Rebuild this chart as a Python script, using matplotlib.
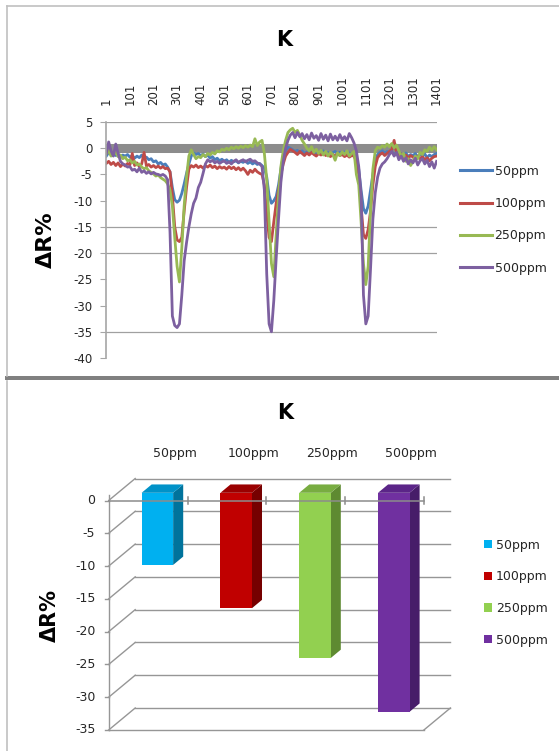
import matplotlib
matplotlib.use('Agg')
import matplotlib.pyplot as plt
from matplotlib.patches import Polygon, Rectangle, Patch
from matplotlib.lines import Line2D

plt.rcParams['font.family'] = ['DejaVu Sans']

W, H = 559, 751
fig = plt.figure(figsize=(W / 100, H / 100), dpi=100)


def fx(px):
    return px / W


def fy(py):
    return 1 - py / H


# ---------------- data ----------------
series_names = ['50ppm', '100ppm', '250ppm', '500ppm']
sample_index = list(range(1, 1402, 10))   # sample numbers (every 10th point)
x_tick_values = list(range(1, 1402, 100))
x_tick_labels = [str(v) for v in x_tick_values]
y_ticks_top = [5, 0, -5, -10, -15, -20, -25, -30, -35, -40]
y_ticks_bottom = [0, -5, -10, -15, -20, -25, -30, -35]

r50 = [
    -1.5, -0.8, -1.2, -1.0, -1.4, -1.1, -1.6, -1.3, -1.5, -1.2,
    -1.7, -1.4, -1.9, -1.5, -1.8, -1.3, -2.0, -1.7, -2.2, -2.0,
    -2.6, -2.4, -3.0, -2.7, -3.2, -3.0, -3.6, -4.5, -7.5, -9.8,
    -10.3, -9.9, -8.6, -6.8, -4.8, -3.0, -1.5, -0.9, -1.2, -1.0,
    -1.4, -1.1, -1.6, -1.3, -1.9, -1.6, -2.2, -1.9, -2.4, -2.1,
    -2.5, -2.2, -2.7, -2.3, -2.6, -2.4, -2.8, -2.5, -2.7, -2.4,
    -2.9, -2.6, -3.0, -2.7, -3.1, -2.9, -3.3, -3.8, -5.5, -9.0,
    -10.5, -10.0, -9.2, -7.0, -4.0, -1.6, -0.5, 0.2, 0.0, -0.3,
    -0.6, -0.4, -0.9, -0.5, -1.0, -0.7, -0.5, -0.9, -0.6, -1.1,
    -0.7, -0.9, -0.5, -1.0, -0.8, -1.2, -0.9, -0.6, -1.1, -0.8,
    -1.0, -0.7, -1.2, -0.9, -1.1, -1.0, -1.8, -4.0, -8.0, -11.5,
    -12.4, -11.0, -8.0, -5.0, -2.5, -1.2, -0.8, -0.5, -0.9, -0.6,
    -1.0, -0.7, -1.2, -0.8, -1.5, -1.1, -1.3, -0.9, -1.6, -1.2,
    -1.4, -1.0, -1.7, -1.2, -1.5, -1.1, -1.8, -1.3, -1.6, -1.2,
    -1.0,
]
r100 = [
    -2.9, -2.5, -3.1, -2.7, -3.3, -2.8, -3.5, -3.0, -3.4, -2.9,
    -3.2, -1.0, -3.3, -2.8, -3.5, -3.0, -0.8, -3.4, -3.1, -3.6,
    -3.3, -3.7, -3.4, -3.8, -3.5, -3.9, -3.8, -4.5, -9.0, -15.0,
    -17.5, -17.8, -17.0, -12.0, -7.5, -4.0, -3.3, -3.6, -3.2, -3.7,
    -3.4, -3.8, -3.3, -3.6, -3.2, -3.7, -3.4, -3.9, -3.5, -3.8,
    -3.6, -4.0, -3.5, -3.9, -3.6, -4.1, -3.7, -4.2, -3.8, -4.3,
    -5.0, -4.2, -4.6, -4.0, -4.5, -4.8, -5.0, -7.0, -12.5, -17.0,
    -17.8, -14.0, -10.5, -8.0, -5.0, -3.0, -1.5, -0.8, -0.2, -0.5,
    -0.8, -1.2, -0.6, -1.0, -1.4, -0.9, -1.3, -0.8, -1.2, -1.5,
    -1.0, -1.3, -0.9, -1.4, -1.1, -1.6, -1.2, -1.5, -1.0, -1.4,
    -1.2, -1.6, -1.3, -1.7, -1.4, -1.5, -2.5, -5.0, -11.0, -16.5,
    -17.2, -15.5, -12.0, -7.0, -3.5, -1.8, -1.2, -0.9, -1.4, -1.0,
    -0.6, -0.3, 1.5, -0.8, -1.5, -1.1, -1.8, -1.3, -1.9, -1.4,
    -1.7, -2.1, -1.5, -2.0, -1.6, -2.2, -1.8, -2.4, -1.9, -1.6,
    -1.5,
]
r250 = [
    -1.0, -0.5, -1.5, -1.2, -0.8, -1.6, -1.3, -2.0, -1.7, -2.4,
    -2.2, -2.8, -2.5, -3.2, -3.0, -3.6, -3.9, -3.7, -4.3, -4.6,
    -4.9, -5.3, -5.1, -5.6, -5.9, -6.2, -6.8, -8.0, -11.0, -17.0,
    -22.5, -25.5, -19.0, -11.0, -5.5, -1.5, -0.3, -1.2, -2.0, -1.6,
    -1.8, -1.2, -1.6, -1.0, -1.3, -0.8, -1.1, -0.5, -0.7, -0.2,
    -0.4, 0.0, -0.3, 0.2, -0.1, 0.3, 0.0, 0.4, 0.1, 0.5,
    0.2, 0.6, 0.3, 1.8, 0.5, 1.2, 1.5, -1.0, -6.0, -14.0,
    -22.0, -24.5, -16.5, -9.0, -3.5, -0.5, 1.5, 3.0, 3.5, 3.8,
    3.0, 3.4, 2.5, 1.5, 0.8, 0.0, -0.5, 0.3, -0.8, -0.2,
    -1.0, -0.4, -1.3, -0.6, -1.5, -0.8, -1.2, -2.3, -0.9, -1.4,
    -0.7, -1.2, -0.5, -1.5, -1.0, -0.6, -5.0, -7.0, -14.0, -22.0,
    -26.0, -22.5, -12.0, -4.0, -0.5, 0.2, 0.0, 0.5, 0.2, 0.8,
    0.3, 0.9, 0.1, 0.6, -0.5, -1.5, -1.0, -2.5, -2.0, -3.3,
    -2.5, -1.5, -2.0, -0.8, -1.2, -0.3, -0.6, 0.2, -0.4, 0.3,
    -0.3,
]
r500 = [
    -1.0, 1.2, -0.5, -1.5, 0.8, -1.0, -2.5, -3.0, -3.2, -3.6,
    -3.5, -4.2, -4.0, -4.5, -3.8, -4.6, -4.3, -4.8, -4.5, -4.9,
    -4.6, -4.9, -5.0, -5.2, -5.0, -5.3, -6.0, -16.0, -32.0, -33.8,
    -34.2, -33.5, -28.0, -21.5, -18.0, -15.0, -12.5, -10.5, -9.5, -7.5,
    -6.5, -4.8, -3.0, -2.2, -2.6, -2.3, -2.8, -2.5, -2.9, -2.6,
    -2.4, -2.9, -2.6, -3.0, -2.5, -2.2, -2.7, -2.4, -2.2, -2.6,
    -2.3, -2.1, -2.5, -2.4, -2.8, -3.0, -3.5, -8.0, -24.0, -33.5,
    -35.0, -29.0, -21.0, -13.5, -6.5, -2.5, 0.0, 1.5, 2.5, 3.0,
    2.0, 3.0, 2.2, 2.8, 1.8, 2.6, 1.6, 2.9, 1.9, 2.4,
    1.5, 2.8, 1.7, 2.5, 1.4, 2.7, 1.6, 2.3, 1.5, 2.6,
    1.6, 2.2, 1.4, 2.8, 2.0, 1.0, -0.5, -3.5, -9.0, -28.0,
    -33.5, -32.0, -23.0, -13.5, -8.5, -5.5, -3.8, -3.0, -2.6, -2.0,
    -1.2, -0.6, -1.5, -0.8, -2.2, -1.5, -2.5, -1.8, -3.0, -2.2,
    -2.8, -1.9, -3.2, -2.4, -2.0, -3.0, -2.3, -3.5, -2.6, -3.8,
    -2.5,
]
line_series = [r50, r100, r250, r500]
line_colors = ['#4A7EBB', '#BE4B48', '#98B954', '#7D60A0']

bar_values = [-11.0, -17.6, -25.2, -33.4]
bar_front = ['#00B0F0', '#C00000', '#92D050', '#7030A0']
bar_side = ['#00739C', '#760000', '#5E8A31', '#471D69']
bar_top = ['#0092C8', '#9A0000', '#78AC41', '#5B2588']

TEXT = '#262626'
FS = 9

# ---------------- panel frames ----------------
fig.add_artist(Line2D([fx(7), fx(7)], [fy(6), fy(376)], transform=fig.transFigure,
                      color='#C0C0C0', lw=1.2))
fig.add_artist(Line2D([fx(7), 1], [fy(6), fy(6)], transform=fig.transFigure,
                      color='#C0C0C0', lw=1.2))
fig.add_artist(Rectangle((fx(5), fy(380)), 1 - fx(5), 4 / H, transform=fig.transFigure,
                         color='#808080', lw=0))
fig.add_artist(Line2D([fx(7), fx(7)], [fy(381), 0], transform=fig.transFigure,
                      color='#C0C0C0', lw=1.2))

# ---------------- top line chart ----------------
ax1 = fig.add_axes([fx(106.2), fy(358), (436.7 - 106.2) / W, (358 - 122) / H])
ax1.set_xlim(0.5, 1401.5)
ax1.set_ylim(-40, 5)
for v in [5, -15, -20, -35]:
    ax1.axhline(v, color='#A0A0A0', lw=0.9, zorder=1)
ax1.axhline(0, color='#8C8C8C', lw=6.5, zorder=1.5)
for name, vals, col in zip(series_names, line_series, line_colors):
    ax1.plot(sample_index, vals, color=col, lw=2.0, label=name, zorder=2,
             solid_joinstyle='round')

for s in ['top', 'right', 'bottom']:
    ax1.spines[s].set_visible(False)
ax1.spines['left'].set_color('#A6A6A6')
ax1.spines['left'].set_linewidth(1.2)
ax1.set_yticks(y_ticks_top)
ax1.set_yticklabels([str(v) for v in y_ticks_top])
ax1.tick_params(axis='y', length=4, color='#A6A6A6', pad=6, labelsize=8.5,
                labelcolor=TEXT)
ax1.xaxis.tick_top()
ax1.set_xticks(x_tick_values)
ax1.set_xticklabels(x_tick_labels, rotation=90, va='bottom', ha='center')
ax1.tick_params(axis='x', length=0, pad=12, labelsize=8.5, labelcolor=TEXT)
ax1.set_facecolor('none')

fig.text(fx(284), fy(40), 'K', ha='center', va='center', fontsize=15,
         fontweight='bold', color='black')
fig.text(fx(45.5), fy(240), 'ΔR%', ha='center', va='center', fontsize=16,
         fontweight='bold', rotation=90, color='black')

leg1 = ax1.legend(loc='upper left', bbox_to_anchor=(fx(460), fy(164.5)),
                  bbox_transform=fig.transFigure, frameon=False, fontsize=FS,
                  handlelength=2.56, handletextpad=0.2, labelspacing=1.55,
                  borderpad=0, borderaxespad=0)
for t in leg1.get_texts():
    t.set_color(TEXT)
for l in leg1.get_lines():
    l.set_linewidth(2.2)

# ---------------- bottom 3D bar chart ----------------
PX0, PXS = 108.7, 78.8        # front-plane category origin / px per category
PY0, PYS = 500.5, 6.557       # front-plane zero / px per unit
L, R, T, B = 60, 470, 440, 745
ax2 = fig.add_axes([fx(L), fy(B), (R - L) / W, (B - T) / H])
ax2.set_xlim((L - PX0) / PXS, (R - PX0) / PXS)
ax2.set_ylim((PY0 - B) / PYS, (PY0 - T) / PYS)
ax2.axis('off')

DX, DY = 26.5 / PXS, 22.0 / PYS    # full depth offset
ncat = len(series_names)
gcol = '#969696'
for v in y_ticks_bottom:
    ax2.plot([DX, ncat + DX], [v + DY, v + DY], color=gcol, lw=1.0, zorder=1)
    ax2.plot([0, DX], [v, v + DY], color=gcol, lw=1.0, zorder=1)
    ax2.plot([-0.05, 0], [v, v], color=gcol, lw=1.0, zorder=1)
    ax2.text(-0.17, v, str(v), ha='right', va='center', fontsize=FS, color=TEXT)
vmin = y_ticks_bottom[-1]
ax2.plot([0, ncat], [vmin, vmin], color=gcol, lw=1.0, zorder=1)
ax2.plot([ncat, ncat + DX], [vmin, vmin + DY], color=gcol, lw=1.0, zorder=1)
ax2.plot([0, 0], [0.9, vmin], color=gcol, lw=1.0, zorder=1)

f0, f1, hw = 0.35, 0.73, 0.2
ddx, ddy = (f1 - f0) * DX, (f1 - f0) * DY
for i, (val, cf, cs, ct) in enumerate(zip(bar_values, bar_front, bar_side, bar_top)):
    cx = i + 0.5 + f0 * DX
    x0, x1 = cx - hw, cx + hw
    ytop = f0 * DY
    ybot = val + f0 * DY
    ax2.add_patch(Polygon([(x1, ytop), (x1 + ddx, ytop + ddy), (x1 + ddx, ybot + ddy),
                           (x1, ybot)], closed=True, fc=cs, ec='none', zorder=3))
    ax2.add_patch(Polygon([(x0, ytop), (x1, ytop), (x1 + ddx, ytop + ddy),
                           (x0 + ddx, ytop + ddy)], closed=True, fc=ct, ec='none', zorder=3))
    ax2.add_patch(Rectangle((x0, ybot), x1 - x0, ytop - ybot, fc=cf, ec='none', zorder=3))
    ax2.text(i + 0.5 + DX, (PY0 - 453) / PYS, series_names[i], ha='center', va='center',
             fontsize=FS, color=TEXT)

ax2.plot([0, ncat], [0, 0], color='#8C8C8C', lw=1.1, zorder=4)
for k in range(1, ncat + 1):
    ax2.plot([k, k], [-0.5, 0.5], color='#8C8C8C', lw=1.1, zorder=4)

fig.text(fx(285), fy(413), 'K', ha='center', va='center', fontsize=15,
         fontweight='bold', color='black')
fig.text(fx(49.5), fy(615), 'ΔR%', ha='center', va='center', fontsize=15,
         fontweight='bold', rotation=90, color='black')

handles = [Patch(fc=c, ec='none') for c in bar_front]
leg2 = ax2.legend(handles, series_names, loc='upper left',
                  bbox_to_anchor=(fx(484), fy(538.5)), bbox_transform=fig.transFigure,
                  frameon=False, fontsize=FS, handlelength=0.64, handleheight=0.64,
                  handletextpad=0.3, labelspacing=1.5, borderpad=0, borderaxespad=0)
for t in leg2.get_texts():
    t.set_color(TEXT)

fig.savefig('out.png', dpi=100)
